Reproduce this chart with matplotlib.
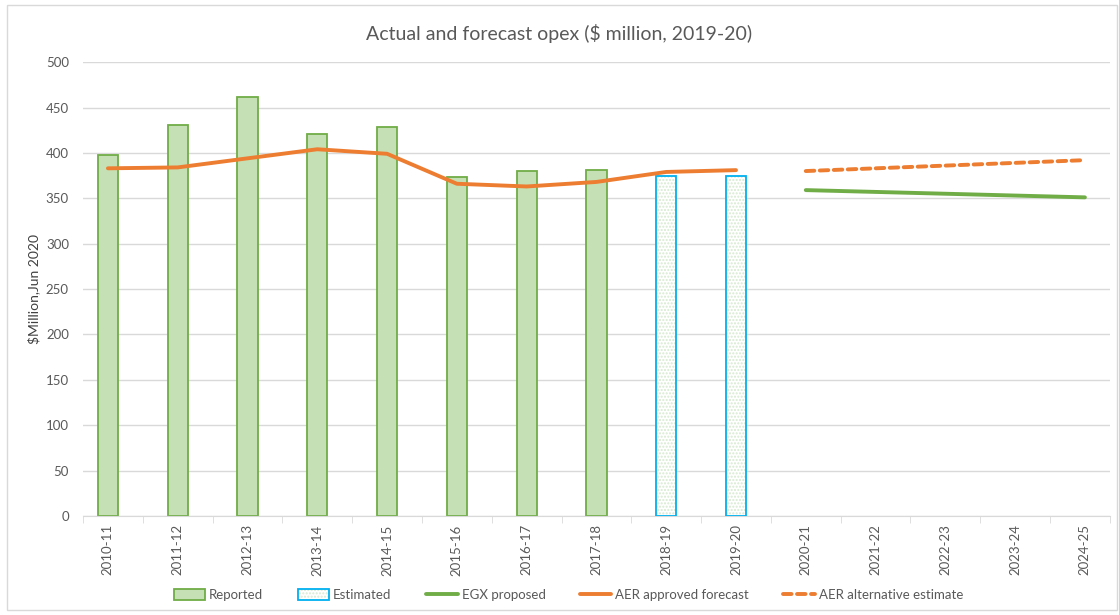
import matplotlib
matplotlib.use('Agg')
import matplotlib.pyplot as plt
from matplotlib.patches import Rectangle
from matplotlib.legend_handler import HandlerTuple

# Données
years = ['2010-11', '2011-12', '2012-13', '2013-14', '2014-15', '2015-16', '2016-17',
         '2017-18', '2018-19', '2019-20', '2020-21', '2021-22', '2022-23', '2023-24', '2024-25']
reported = [398, 431, 462, 421, 428, 373, 380, 381]
estimated = [374, 374]
aer_approved = [383, 384, 394, 404, 399, 366, 363, 368, 379, 381]
egx_proposed = [359, 357, 355, 353, 351]
aer_alternative = [380, 383, 386, 389, 392]

plt.rcParams['font.family'] = ['Lato', 'DejaVu Sans']
grey = '#595959'
green_fill = '#c5e0b4'
green_line = '#70ad47'
blue = '#00b0f0'
orange = '#ed7d31'

fig = plt.figure(figsize=(11.19, 6.15), dpi=100)
ax = fig.add_axes([0.074, 0.161, 0.918, 0.738])

x = list(range(len(years)))
w = 0.29

# Barres
ax.bar(x[:8], reported, width=w, color=green_fill, edgecolor=green_line, linewidth=1.3,
       label='Reported', zorder=2)
h1 = ax.bar(x[8:10], estimated, width=w, color='white', edgecolor='#d5ead0', hatch='.....',
            linewidth=0, zorder=2)
h2 = ax.bar(x[8:10], estimated, width=w, color='none', edgecolor=blue, linewidth=1.3, zorder=3)

# Lignes
ax.plot(x[10:], egx_proposed, color=green_line, linewidth=2.8, label='EGX proposed',
        solid_capstyle='round', zorder=4)
ax.plot(x[:10], aer_approved, color=orange, linewidth=2.8, label='AER approved forecast',
        solid_capstyle='round', zorder=4)
ax.plot(x[10:], aer_alternative, color=orange, linewidth=2.8, linestyle=(0, (2.2, 1.4)),
        dash_capstyle='round', label='AER alternative estimate', zorder=4)

# Styling
ax.set_xlim(-0.36, 14.36)
ax.set_ylim(0, 500)
ax.set_yticks(range(0, 501, 50))
ax.set_xticks(x)
ax.set_xticklabels(years, rotation=90)
ax.set_xticks([i + 0.5 for i in x[:-1]] + [-0.36, 14.36], minor=True)
ax.tick_params(axis='x', which='major', length=0, colors=grey, labelsize=9.5, pad=6)
ax.tick_params(axis='x', which='minor', length=5, color='#d9d9d9')
ax.tick_params(axis='y', length=0, colors=grey, labelsize=9.5, pad=10)
ax.grid(True, axis='y', color='#d9d9d9', linewidth=1, zorder=0)
ax.set_axisbelow(True)
for s in ['top', 'right', 'left']:
    ax.spines[s].set_visible(False)
ax.spines['bottom'].set_color('#d9d9d9')
ax.set_ylabel('$Million,Jun 2020', color='#404040', fontsize=10, labelpad=4)
fig.text(0.5, 0.946, 'Actual and forecast opex ($ million, 2019-20)', ha='center', va='center',
         fontsize=14, color=grey)

handles, labels = ax.get_legend_handles_labels()
handles = [handles[3], (h1[0], h2[0]), handles[0], handles[1], handles[2]]
labels = ['Reported', 'Estimated', 'EGX proposed', 'AER approved forecast', 'AER alternative estimate']
fig.legend(handles, labels, loc='center', bbox_to_anchor=(0.508, 0.033), ncol=5, frameon=False,
           fontsize=9.5, labelcolor=grey, handlelength=2.4, handleheight=0.9, columnspacing=2.6,
           handletextpad=0.3,
           handler_map={tuple: HandlerTuple(ndivide=1, pad=0)})

fig.patches.append(Rectangle((0.006, 0.008), 0.992, 0.984, transform=fig.transFigure,
                             fill=False, edgecolor='#d9d9d9', linewidth=1))

fig.savefig('out.png', dpi=100)
plt.close(fig)
